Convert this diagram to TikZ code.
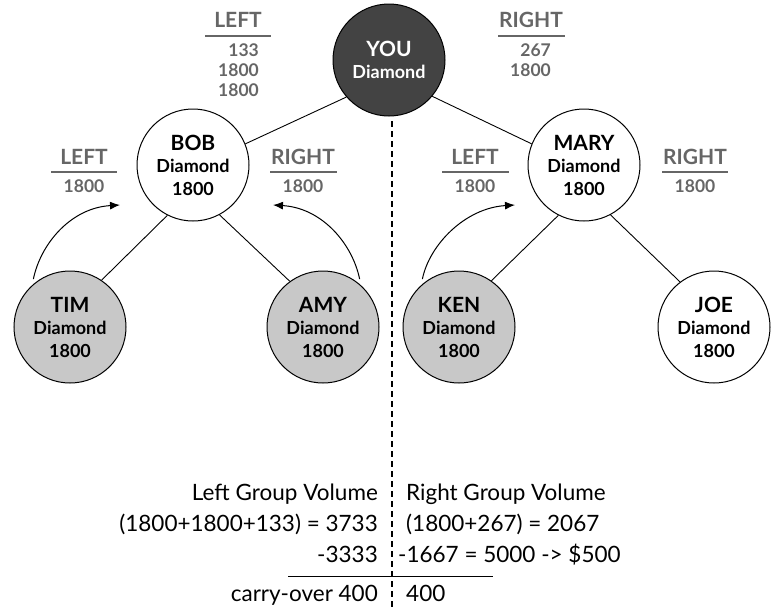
\documentclass[tikz,border=0pt]{standalone}
\usepackage{fontspec}
\setmainfont{Lato}
\usetikzlibrary{arrows.meta}

\definecolor{topgray}{HTML}{434343}
\definecolor{fillgray}{HTML}{C8C8C8}
\definecolor{taggray}{HTML}{666666}
\def\who#1{{\fontsize{21}{23}\selectfont #1}}

\tikzset{
  member/.style={circle, draw, line width=1pt, minimum size=112pt, inner sep=0pt,
    align=center, font=\bfseries\fontsize{18}{22.5}\selectfont},
  tag/.style={text=taggray, font=\bfseries\fontsize{21}{22}\selectfont, inner sep=0pt},
  tagnum/.style={text=taggray, font=\bfseries\fontsize{17.5}{20}\selectfont, inner sep=0pt},
  tagrule/.style={draw=taggray, line width=1.2pt},
  link/.style={line width=0.9pt},
  hop/.style={line width=1pt, -{Latex[length=10pt,width=8pt]}, shorten <=6pt},
  sum/.style={font=\fontsize{22.5}{23}\selectfont, inner sep=0pt}
}

\begin{document}
\begin{tikzpicture}[x=1pt,y=-1pt]
			%%%%% START %%%%%
			\useasboundingbox (0,0) rectangle (773,608);
			
			\node[member, fill=topgray, text=white] (you) at (389,60) {\who{YOU}\\Diamond};
			\node[member] (bob) at (193,165) {\who{BOB}\\Diamond\\1800};
			\node[member] (mary) at (584,165) {\who{MARY}\\Diamond\\1800};
			\node[member, fill=fillgray] (tim) at (70,327) {\who{TIM}\\Diamond\\1800};
			\node[member, fill=fillgray] (amy) at (323,327) {\who{AMY}\\Diamond\\1800};
			\node[member, fill=fillgray] (ken) at (459,327) {\who{KEN}\\Diamond\\1800};
			\node[member] (joe) at (714,327) {\who{JOE}\\Diamond\\1800};
			
			\draw[link] (you.221) -- (bob.22);
			\draw[link] (you.320) -- (mary.158);
			\draw[link] (bob.243) -- (tim.56);
			\draw[link] (bob.298) -- (amy.126);
			\draw[link] (mary.243) -- (ken.55);
			\draw[link] (mary.298) -- (joe.127);
			
			\coordinate (divtop) at (392,121);
			\coordinate (divbot) at (392,608);
			\draw[line width=1.2pt, dash pattern=on 6pt off 4pt] (divtop) -- (divbot);
			
			% legs under YOU
			\node[tag] (youLeft) at (238,20) {LEFT};
			\draw[tagrule] (205,36) -- (271,36);
			\node[tagnum, anchor=base east] (youLeftA) at (259,56) {133};
			\node[tagnum, anchor=base east] (youLeftB) at (259,76) {1800};
			\node[tagnum, anchor=base east] (youLeftC) at (259,96) {1800};
			\node[tag] (youRight) at (531,20) {RIGHT};
			\draw[tagrule] (498,36) -- (565,36);
			\node[tagnum, anchor=base east] (youRightA) at (551,56) {267};
			\node[tagnum, anchor=base east] (youRightB) at (551,76) {1800};
			
			% legs under BOB and MARY
			\node[tag] (bobLeft) at (84,157) {LEFT};
			\draw[tagrule] (51,172) -- (117,172);
			\node[tagnum] (bobLeftA) at (84,186) {1800};
			\node[tag] (bobRight) at (303,157) {RIGHT};
			\draw[tagrule] (270,172) -- (337,172);
			\node[tagnum] (bobRightA) at (303,186) {1800};
			\node[tag] (maryLeft) at (475,157) {LEFT};
			\draw[tagrule] (442,172) -- (509,172);
			\node[tagnum] (maryLeftA) at (475,186) {1800};
			\node[tag] (maryRight) at (695,157) {RIGHT};
			\draw[tagrule] (662,172) -- (728,172);
			\node[tagnum] (maryRightA) at (695,186) {1800};
			
			\coordinate (timArrow) at (120,205);
			\coordinate (amyArrow) at (273,205);
			\coordinate (kenArrow) at (515,205);
			\draw[hop] (tim.132) .. controls +(8,-40) and +(-50,3) .. (timArrow);
			\draw[hop] (amy.48) .. controls +(-8,-40) and +(50,3) .. (amyArrow);
			\draw[hop] (ken.132) .. controls +(8,-40) and +(-50,3) .. (kenArrow);
			
			% volumes
			\node[sum, anchor=base east] (leftHead) at (378,500) {Left Group Volume};
			\node[sum, anchor=base east] (leftSum) at (378,531) {(1800+1800+133) = 3733};
			\node[sum, anchor=base east] (leftCut) at (378,562) {-3333};
			\node[sum, anchor=base east] (leftCarry) at (378,601) {carry-over 400};
			\node[sum, anchor=base west] (rightHead) at (406,500) {Right Group Volume};
			\node[sum, anchor=base west] (rightSum) at (406,531) {(1800+267) = 2067};
			\node[sum, anchor=base west] (rightCut) at (398,562) {-1667 = 5000 -> \$500};
			\node[sum, anchor=base west] (rightCarry) at (406,601) {400};
			\draw[line width=1pt] (288,576) -- (493,576);
			
			%%%%% END %%%%%
\end{tikzpicture}
\end{document}
